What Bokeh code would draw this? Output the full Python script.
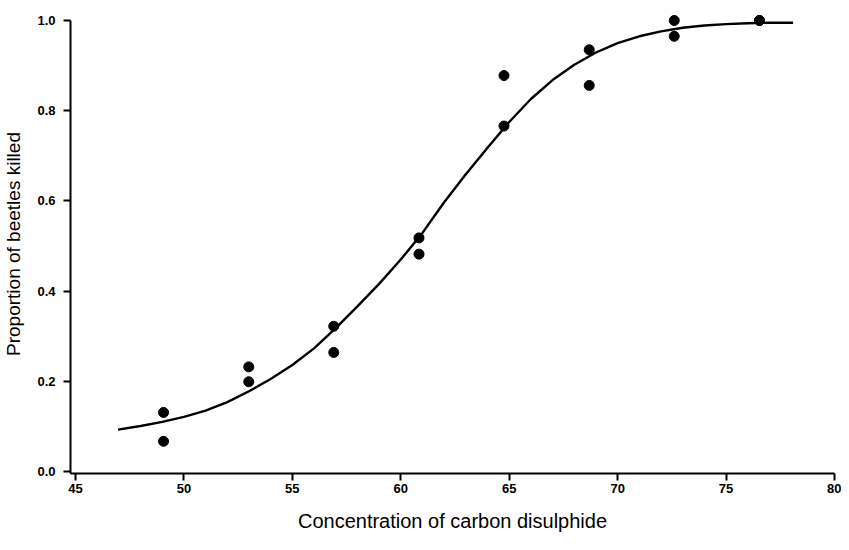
from bokeh.plotting import figure
from bokeh.models import FixedTicker, Range1d
from bokeh.embed import file_html
from bokeh.resources import INLINE

# Observed proportions (two replicates per concentration)
conc = [49.06, 49.06, 52.99, 52.99, 56.91, 56.91, 60.84, 60.84,
        64.76, 64.76, 68.69, 68.69, 72.61, 72.61, 76.54, 76.54]
prop = [0.067, 0.131, 0.199, 0.232, 0.264, 0.322, 0.482, 0.518,
        0.766, 0.878, 0.856, 0.935, 0.965, 1.0, 1.0, 1.0]

# Fitted curve
curve_x = [46.96, 48, 49, 50, 51, 52, 53, 54, 55, 56, 57, 58, 59, 60, 61, 62,
           63, 64, 65, 66, 67, 68, 69, 70, 71, 72, 73, 74, 75, 76, 77, 78.09]
curve_y = [0.093, 0.101, 0.110, 0.121, 0.135, 0.154, 0.178, 0.205, 0.236,
           0.273, 0.318, 0.366, 0.416, 0.470, 0.529, 0.597, 0.659, 0.718,
           0.775, 0.826, 0.868, 0.902, 0.929, 0.950, 0.965, 0.976, 0.984,
           0.989, 0.992, 0.994, 0.995, 0.995]

x_ticks = [45, 50, 55, 60, 65, 70, 75, 80]
y_ticks = [0.0, 0.2, 0.4, 0.6, 0.8, 1.0]

Y0 = -0.0044
p = figure(width=841, height=534, output_backend="svg", toolbar_location=None,
           x_range=Range1d(44.77, 80.0), y_range=Range1d(Y0, 1.0133),
           min_border_left=70, min_border_right=7, min_border_top=14,
           min_border_bottom=60)
p.outline_line_color = None
p.grid.visible = False
p.background_fill_color = "white"

p.line(curve_x, curve_y, line_color="black", line_width=2.4)
p.scatter(conc, prop, size=10, color="black")

FONT = "Liberation Sans"
for ax, ticks in ((p.xaxis[0], x_ticks), (p.yaxis[0], y_ticks)):
    ax.ticker = FixedTicker(ticks=ticks)
    ax.axis_line_width = 2
    ax.axis_line_color = "black"
    ax.major_tick_line_width = 2
    ax.major_tick_line_color = "black"
    ax.major_tick_out = 7
    ax.major_tick_in = 0
    ax.minor_tick_line_color = None
    ax.major_label_text_font = FONT
    ax.major_label_text_font_style = "bold"
    ax.major_label_text_font_size = "13px"
    ax.major_label_text_color = "black"
    ax.axis_label_text_font = FONT
    ax.axis_label_text_font_style = "normal"
    ax.axis_label_text_color = "black"

p.yaxis[0].bounds = (Y0, 1.0)
p.xaxis.axis_label = "Concentration of carbon disulphide"
p.yaxis.axis_label = "Proportion of beetles killed"
p.xaxis.axis_label_text_font_size = "20px"
p.yaxis.axis_label_text_font_size = "19px"
p.xaxis.major_label_standoff = 3
p.xaxis.axis_label_standoff = 14
p.yaxis.major_label_standoff = 8
p.yaxis.axis_label_standoff = 10
p.yaxis.major_label_overrides = {0.0: "0.0", 0.2: "0.2", 0.4: "0.4", 0.6: "0.6", 0.8: "0.8", 1.0: "1.0"}

open("out.html", "w").write(file_html(p, INLINE))
